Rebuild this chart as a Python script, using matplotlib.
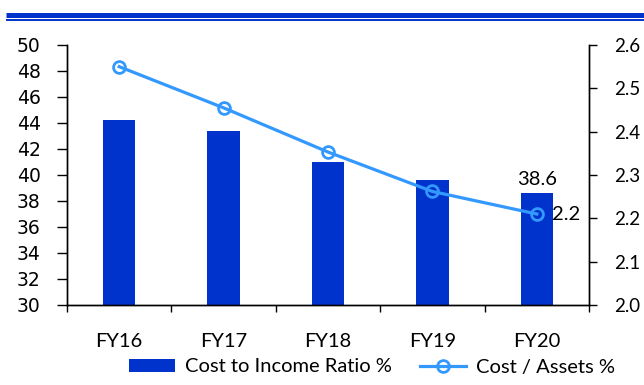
import numpy as np
import matplotlib.pyplot as plt
from matplotlib.lines import Line2D

anios = ["FY16", "FY17", "FY18", "FY19", "FY20"]
costo_ingreso = [44.2, 43.4, 41.0, 39.6, 38.6]
costo_activos = [2.55, 2.455, 2.353, 2.262, 2.21]

azul = "#0033CC"
celeste = "#3399FF"
fuente = "Lato"

fig = plt.figure(figsize=(6.44, 3.85), dpi=100)

# franja doble de encabezado
fig.add_artist(Line2D([6 / 644, 1], [1 - 14.5 / 385] * 2, color=azul, lw=3.6,
                      solid_capstyle="butt"))
fig.add_artist(Line2D([6 / 644, 1], [1 - 19.7 / 385] * 2, color=azul, lw=1.4,
                      solid_capstyle="butt"))

ax = fig.add_axes([67 / 644, 1 - 305 / 385, 522 / 644, 260 / 385])
ax2 = ax.twinx()

x = np.arange(len(anios))
barras = ax.bar(x, costo_ingreso, width=0.31, color=azul, zorder=2,
                label="Cost to Income Ratio %")
linea, = ax2.plot(x, costo_activos, color=celeste, lw=2.3, marker="o", ms=8.5,
                  mfc="none", mec=celeste, mew=2, zorder=3,
                  label="Cost / Assets %")

ax.set_xlim(-0.5, 4.5)
ax.set_ylim(30, 50)
ax.set_yticks(np.arange(30, 51, 2))
ax2.set_ylim(2.0, 2.6)
ax2.set_yticks(np.arange(2.0, 2.61, 0.1))
ax2.set_yticklabels([f"{v:.1f}" for v in np.arange(2.0, 2.61, 0.1)])

ax.set_xticks(x)
ax.set_xticklabels(anios, fontfamily=fuente, fontsize=14.5)
ax.set_xticks(np.arange(-0.5, 4.6, 1), minor=True)
ax.tick_params(axis="x", which="major", length=0, pad=20)
ax.tick_params(axis="x", which="minor", length=5, width=1, direction="out")
ax.tick_params(axis="y", length=7, width=1, pad=12, labelsize=13.5)
ax2.tick_params(axis="y", length=6, width=1, pad=12)
for t in ax2.get_yticklabels():
    t.set_fontfamily(fuente)
    t.set_fontsize(13.5)

for a in (ax, ax2):
    a.spines["top"].set_visible(False)
    for s in a.spines.values():
        s.set_linewidth(1)

# etiquetas del último año
ax.text(x[-1], costo_ingreso[-1] + 0.4, f"{costo_ingreso[-1]:.1f}", ha="center",
        va="bottom", fontfamily=fuente, fontsize=14.5)
ax2.text(x[-1] + 0.15, costo_activos[-1], f"{costo_activos[-1]:.1f}", ha="left",
         va="center", fontfamily=fuente, fontsize=14.5, zorder=1)

fig.legend(handles=[barras, linea], loc="center", ncol=2,
           bbox_to_anchor=(372 / 644, 1 - 367 / 385), frameon=False,
           prop={"family": fuente, "size": 14.5}, handlelength=2.3,
           handleheight=0.6, columnspacing=1.4, handletextpad=0.5,
           borderaxespad=0)

fig.savefig("out.png", dpi=100)
